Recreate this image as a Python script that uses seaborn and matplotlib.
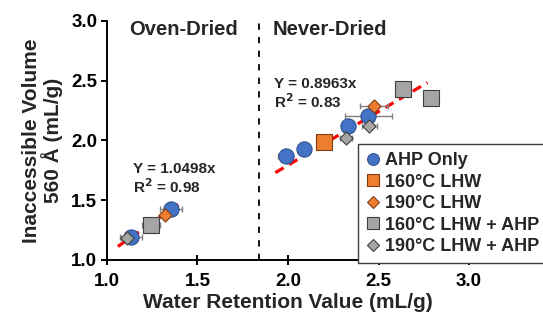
import matplotlib
matplotlib.use("Agg")
import matplotlib.pyplot as plt
import seaborn as sns
import numpy as np
import pandas as pd

# ---- data ----
groups = ["AHP Only", "160°C LHW", "190°C LHW", "160°C LHW + AHP", "190°C LHW + AHP"]
ahp_x = [1.352, 1.133, 1.987, 2.088, 2.333, 2.444]
ahp_y = [1.43, 1.19, 1.87, 1.93, 2.12, 2.20]
ahp_err = [0.06, 0.06, 0.04, 0.02, 0.03, 0.13]
lhw160_x = [2.20]
lhw160_y = [1.99]
lhw160_err = [0.02]
lhw190_x = [1.32, 2.475]
lhw190_y = [1.375, 2.286]
lhw190_err = [0.02, 0.075]
lhw160ahp_x = [1.241, 2.634, 2.79]
lhw160ahp_y = [1.29, 2.43, 2.35]
lhw160ahp_err = [0.05, 0.0, 0.0]
lhw190ahp_x = [1.109, 2.32, 2.45]
lhw190ahp_y = [1.18, 2.02, 2.12]
lhw190ahp_err = [0.03, 0.035, 0.04]

oven_slope = 1.0498
oven_range = [1.06, 1.40]
never_slope = 0.8963
never_range = [1.93, 2.77]
divider_x = 1.838

xs = [ahp_x, lhw160_x, lhw190_x, lhw160ahp_x, lhw190ahp_x]
ys = [ahp_y, lhw160_y, lhw190_y, lhw160ahp_y, lhw190ahp_y]
errs = [ahp_err, lhw160_err, lhw190_err, lhw160ahp_err, lhw190ahp_err]

styles = {
    "AHP Only": dict(marker="o", s=120, color="#4472C4", ec="#2F528F", lw=0.8),
    "160°C LHW": dict(marker="s", s=120, color="#ED7D31", ec="#7F3F10", lw=0.8),
    "190°C LHW": dict(marker="D", s=45, color="#ED7D31", ec="#7F3F10", lw=0.8),
    "160°C LHW + AHP": dict(marker="s", s=120, color="#A5A5A5", ec="#404040", lw=0.8),
    "190°C LHW + AHP": dict(marker="D", s=45, color="#A5A5A5", ec="#404040", lw=0.8),
}

sns.set_theme(style="ticks")
plt.rcParams["font.family"] = ["Liberation Sans", "DejaVu Sans"]
plt.rcParams["font.weight"] = "bold"

fig = plt.figure(figsize=(5.43, 3.22), dpi=100)
ax = fig.add_axes([107/543, 1-260/322, (469-107)/543, (260-20.7)/322])

# regression lines
for slope, rng in [(oven_slope, oven_range), (never_slope, never_range)]:
    lx = np.array(rng)
    sns.lineplot(x=lx, y=slope*lx, ax=ax, color="#FF0000", lw=2.3,
                 dashes=False, linestyle=(0, (3.0, 2.0)), zorder=2)

# error bars
for x, y, e in zip(xs, ys, errs):
    ax.errorbar(x, y, xerr=e, fmt="none", ecolor="#808080", elinewidth=1.0,
                capsize=2.5, capthick=1.0, zorder=3)

# markers
order_z = {"AHP Only": 4, "160°C LHW": 5, "160°C LHW + AHP": 5, "190°C LHW": 6, "190°C LHW + AHP": 6}
for g, x, y in zip(groups, xs, ys):
    st = styles[g]
    df = pd.DataFrame({"x": x, "y": y})
    sns.scatterplot(data=df, x="x", y="y", ax=ax, marker=st["marker"], s=st["s"],
                    color=st["color"], edgecolor=st["ec"], linewidth=st["lw"],
                    zorder=order_z[g], label=g, legend=False)

from matplotlib.lines import Line2D
leg_handles = []
for g in groups:
    st = styles[g]
    ms = 8.5 if st["marker"] != "D" else 5.8
    leg_handles.append(Line2D([], [], linestyle="none", marker=st["marker"], markersize=ms,
                              markerfacecolor=st["color"], markeredgecolor=st["ec"],
                              markeredgewidth=0.8))

# divider
ax.axvline(divider_x, color="black", lw=1.3, linestyle=(0, (3.5, 4)), zorder=1)

ax.set_xlim(1.0, 3.0)
ax.set_ylim(1.0, 3.0)
ax.set_xticks([1.0, 1.5, 2.0, 2.5, 3.0])
ax.set_yticks([1.0, 1.5, 2.0, 2.5, 3.0])
ax.xaxis.set_major_formatter(matplotlib.ticker.FormatStrFormatter("%.1f"))
ax.yaxis.set_major_formatter(matplotlib.ticker.FormatStrFormatter("%.1f"))
sns.despine(ax=ax)
for sp in ["left", "bottom"]:
    ax.spines[sp].set_linewidth(1.4)
    ax.spines[sp].set_color("black")
ax.tick_params(axis="x", direction="inout", length=7, width=1.4, labelsize=13.5, pad=6, colors="black")
ax.tick_params(axis="y", direction="out", length=4, width=1.4, labelsize=13.5, pad=3, colors="black")
for lab in ax.get_xticklabels() + ax.get_yticklabels():
    lab.set_fontweight("bold")

ax.set_xlabel("Water Retention Value (mL/g)", fontsize=15, fontweight="bold", labelpad=2)
ax.set_ylabel("Inaccessible Volume\n560 Å (mL/g)", fontsize=15, fontweight="bold",
              labelpad=6, linespacing=1.0)

ax.text(1.42, 2.93, "Oven-Dried", fontsize=14.5, fontweight="bold", ha="center", va="center")
ax.text(2.23, 2.93, "Never-Dried", fontsize=14.5, fontweight="bold", ha="center", va="center")
ax.text(1.145, 1.76, "Y = 1.0498x", fontsize=11, fontweight="bold", ha="left", va="center")
ax.text(1.145, 1.615, "R$^2$ = 0.98", fontsize=11, fontweight="bold", ha="left", va="center")
ax.text(1.92, 2.475, "Y = 0.8963x", fontsize=11, fontweight="bold", ha="left", va="center")
ax.text(1.92, 2.325, "R$^2$ = 0.83", fontsize=11, fontweight="bold", ha="left", va="center")

leg = fig.legend(leg_handles, groups, loc="upper left", bbox_to_anchor=(357.7/543, 1-144/322),
                 frameon=True, fancybox=False, edgecolor="#404040", framealpha=1,
                 prop={"weight": "bold", "size": 13, "family": "Liberation Sans"},
                 handlelength=0.8, handletextpad=0.25, labelspacing=0.25, borderpad=0.45,
                 borderaxespad=0)
leg.get_frame().set_linewidth(1.0)

fig.savefig("out.png", dpi=100)
